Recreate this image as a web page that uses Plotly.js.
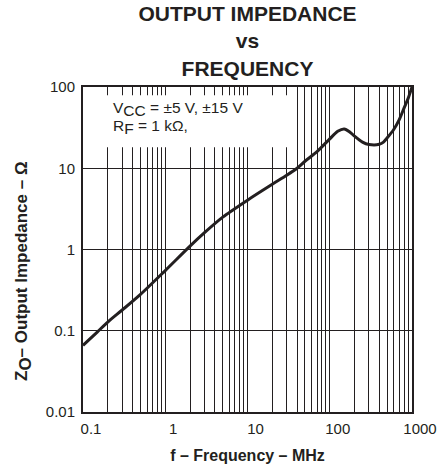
<!DOCTYPE html>
<html>
<head>
<meta charset="utf-8">
<script src="https://cdn.plot.ly/plotly-3.0.1.min.js"></script>
<style>
  html, body { margin: 0; padding: 0; background: #fff; }
  #chart { width: 446px; height: 469px; }
</style>
</head>
<body>
<div id="chart"></div>
<script>
// Frequency (MHz) and output impedance (ohm)
const freqMHz = [0.1, 0.15, 0.2, 0.3, 0.5, 1, 2, 3, 5, 10, 20, 30, 40, 50, 70, 100, 125, 150, 175, 200, 250, 300, 400, 450, 500, 600, 700, 800, 900, 1000];
const impedanceOhm = [0.066, 0.097, 0.128, 0.18, 0.28, 0.55, 1.1, 1.61, 2.5, 4.05, 6.35, 8.2, 10.0, 12.2, 16.0, 23.0, 28.5, 30.5, 28.0, 24.8, 21.0, 19.6, 19.7, 21.0, 23.7, 30.0, 39.6, 55.0, 73.0, 100.0];

const xTickVals = [0.1, 1, 10, 100, 1000];
const xTickText = ["0.1", "1", "10", "100", "1000"];
const yTickVals = [0.01, 0.1, 1, 10, 100];
const yTickText = ["0.01", "0.1", "1", "10", "100"];

const titleLines = ["OUTPUT IMPEDANCE", "vs", "FREQUENCY"];
const xTitle = "f – Frequency – MHz";
const yTitle = "Z<sub><span style=\"font-size:17px\">O</span></sub>– Output Impedance – Ω";
const noteLine1 = "V<sub><span style=\"font-size:15.5px\">CC</span></sub> = ±5 V, ±15 V";
const noteLine2 = "R<sub><span style=\"font-size:15.5px\">F</span></sub> = 1 kΩ,";

// minor (2..9) grid positions per decade
const minorVals = [];
for (let d = 0.1; d < 1000; d *= 10) {
  for (let k = 2; k <= 9; k++) minorVals.push(+(k * d).toPrecision(3));
}

const FONT = "Liberation Sans, Arial, Helvetica, sans-serif";
const INK = "#231f20";

const trace = {
  x: freqMHz,
  y: impedanceOhm,
  type: "scatter",
  mode: "lines",
  line: { color: INK, width: 3, shape: "spline", smoothing: 0.8 },
  hoverinfo: "skip"
};

const layout = {
  width: 446,
  height: 469,
  margin: { l: 83, r: 34, t: 87, b: 57, pad: 0 },
  paper_bgcolor: "#fff",
  plot_bgcolor: "#fff",
  showlegend: false,
  font: { family: FONT, color: INK, size: 15 },
  title: {
    text: titleLines.join("<br>"),
    font: { family: FONT, size: 21, color: INK, weight: "bold" },
    x: 0.5, xref: "paper", xanchor: "center",
    y: 1 - 21 / 469, yref: "container", yanchor: "top",
    pad: { t: 0, b: 0, l: 0, r: 0 }
  },
  xaxis: {
    type: "log",
    range: [-1, 3],
    tickmode: "array",
    tickvals: xTickVals,
    ticktext: xTickText,
    ticks: "",
    ticklabelstandoff: 2,
    ticklabelshift: 8,
    tickfont: { family: FONT, size: 15, color: INK },
    showgrid: true,
    gridcolor: INK,
    gridwidth: 1,
    minor: { tickmode: "array", tickvals: minorVals, showgrid: true, gridcolor: INK, gridwidth: 1, ticks: "" },
    showline: true,
    linecolor: INK,
    linewidth: 2,
    mirror: true,
    zeroline: false,
    fixedrange: true,
    title: {
      text: xTitle,
      font: { family: FONT, size: 16, color: INK, weight: "bold" },
      standoff: 14
    }
  },
  yaxis: {
    type: "log",
    range: [-2, 2],
    tickmode: "array",
    tickvals: yTickVals,
    ticktext: yTickText,
    ticks: "",
    ticklabelstandoff: 3,
    tickfont: { family: FONT, size: 15, color: INK },
    showgrid: true,
    gridcolor: INK,
    gridwidth: 1,
    showline: true,
    linecolor: INK,
    linewidth: 2,
    mirror: true,
    zeroline: false,
    fixedrange: true
  },
  shapes: [
    {
      type: "rect",
      xref: "paper", yref: "paper",
      x0: 0.005, x1: 0.635, y0: 0.815, y1: 0.975,
      fillcolor: "#fff",
      line: { width: 0 },
      layer: "above"
    }
  ],
  annotations: [
    {
      text: yTitle,
      xref: "paper", yref: "paper",
      x: (23 - 83) / 329, y: (412 - 271) / 325,
      xanchor: "center", yanchor: "middle",
      textangle: -90,
      showarrow: false,
      font: { family: FONT, size: 17, color: INK, weight: "bold" }
    },
    {
      text: noteLine1,
      xref: "paper", yref: "paper",
      x: (111 - 83) / 329, y: (412 - 109) / 325,
      xanchor: "left", yanchor: "middle",
      showarrow: false,
      font: { family: FONT, size: 15.5, color: INK }
    },
    {
      text: noteLine2,
      xref: "paper", yref: "paper",
      x: (111 - 83) / 329, y: (412 - 127) / 325,
      xanchor: "left", yanchor: "middle",
      showarrow: false,
      font: { family: FONT, size: 15.5, color: INK }
    }
  ]
};

Plotly.newPlot("chart", [trace], layout, { staticPlot: true, displayModeBar: false });
</script>
</body>
</html>
